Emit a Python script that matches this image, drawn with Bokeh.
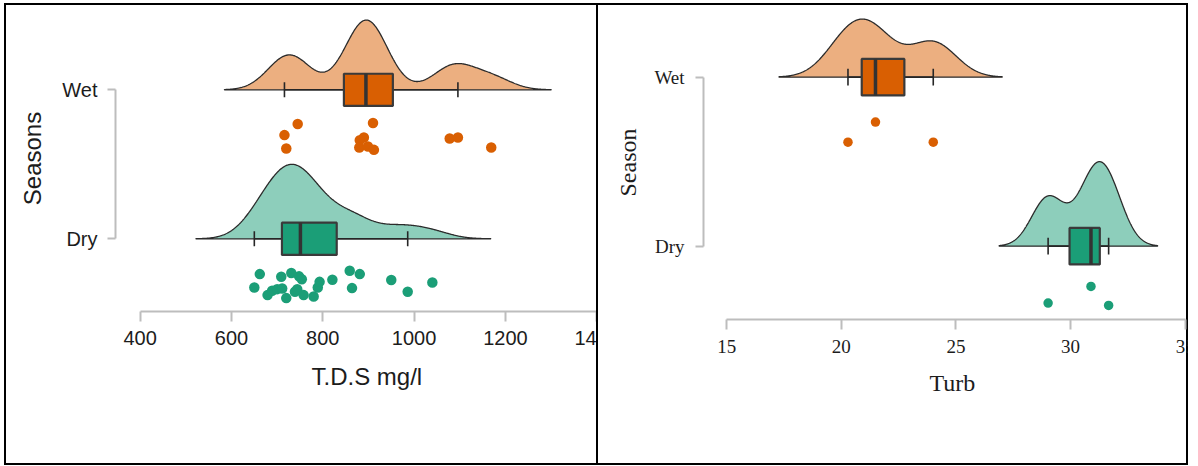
import numpy as np
from bokeh.plotting import figure
from bokeh.layouts import row
from bokeh.models import Range1d, FixedTicker, Title
from bokeh.embed import file_html
from bokeh.resources import INLINE

# ---------------- data ----------------
season_labels = {1: "Dry", 2: "Wet"}
tds_ticks = [400, 600, 800, 1000, 1200, 1400]
turb_ticks = [15, 20, 25, 30, 35]

tds_wet = [745, 716, 720, 910, 890, 881, 880, 899, 912, 1078, 1096, 1169]
tds_wet_jitter = [0.230, 0.304, 0.394, 0.223, 0.320, 0.338, 0.387, 0.381, 0.403, 0.327, 0.320, 0.387]
tds_dry = [650, 662, 679, 689, 700, 709, 711, 720, 731, 739, 744, 748,
           754, 758, 780, 789, 793, 821, 859, 864, 881, 950, 986, 1040]
tds_dry_jitter = [0.327, 0.237, 0.378, 0.349, 0.338, 0.255, 0.334, 0.398, 0.230, 0.356, 0.338, 0.252,
                  0.272, 0.378, 0.387, 0.327, 0.289, 0.275, 0.215, 0.331, 0.237, 0.277, 0.356, 0.293]
turb_wet = [20.29, 21.49, 24.01]
turb_wet_jitter = [0.385, 0.266, 0.385]
turb_dry = [29.02, 30.89, 31.66]
turb_dry_jitter = [0.337, 0.238, 0.351]

ORANGE = "#D95F02"
GREEN = "#1B9E77"
TEXT = "#1c1c1c"

# ---------------- helpers ----------------
def density(x, n=512):
    x = np.asarray(x, float)
    m = len(x)
    sd = x.std(ddof=1)
    q1, q3 = np.percentile(x, [25, 75])
    lo = min(sd, (q3 - q1) / 1.34)
    bw = 0.9 * lo * m ** -0.2
    grid = np.linspace(x.min() - 3 * bw, x.max() + 3 * bw, n)
    d = np.exp(-0.5 * ((grid[:, None] - x[None, :]) / bw) ** 2).sum(1) / (m * bw * np.sqrt(2 * np.pi))
    return grid, d


def box_stats(x):
    a = np.asarray(x, float)
    q1, med, q3 = np.percentile(a, [25, 50, 75])
    iqr = q3 - q1
    lo = a[a >= q1 - 1.5 * iqr].min()
    hi = a[a <= q3 + 1.5 * iqr].max()
    return lo, q1, med, q3, hi


def raincloud(p, groups, dot_size, half_height=0.5, box_half=0.108, cap_half=0.05):
    dens = [density(g[1]) for g in groups]
    dmax = max(d.max() for _, d in dens)
    scale = half_height / dmax
    for (pos, vals, jit, col), (grid, d) in zip(groups, dens):
        xs = list(grid) + [grid[-1], grid[0]]
        ys = list(pos + d * scale) + [pos, pos]
        p.patch(xs, ys, fill_color=col, fill_alpha=0.5, line_color="#2b2b2b", line_width=1.3)
        lo, q1, med, q3, hi = box_stats(vals)
        p.segment(x0=[lo, q3], y0=[pos, pos], x1=[q1, hi], y1=[pos, pos],
                  line_color="#262626", line_width=1.6)
        p.segment(x0=[lo, hi], y0=[pos - cap_half] * 2, x1=[lo, hi], y1=[pos + cap_half] * 2,
                  line_color="#262626", line_width=1.6)
        p.quad(left=[q1], right=[q3], bottom=[pos - box_half], top=[pos + box_half],
               fill_color=col, line_color="#3a3a3a", line_width=2.2)
        p.segment(x0=[med], y0=[pos - box_half], x1=[med], y1=[pos + box_half],
                  line_color="#333333", line_width=3.5)
        p.scatter(x=list(vals), y=list(pos - np.asarray(jit)), size=dot_size,
                  fill_color=col, line_color=None)


def make_panel(width, height, xr, yr, borders, font, tick_px, label_px, xlabel, ylabel,
               xticks, ystand, xstand, ylab_stand, xlab_gap, xlab_offset):
    p = figure(width=width, height=height, x_range=Range1d(*xr), y_range=Range1d(*yr),
               output_backend="svg", toolbar_location=None, tools="",
               min_border_left=borders[0], min_border_right=borders[1],
               min_border_top=borders[2], min_border_bottom=borders[3])
    p.frame_align = False
    p.xgrid.visible = False
    p.ygrid.visible = False
    p.outline_line_color = None
    p.background_fill_color = None
    p.border_fill_color = None
    p.styles = {"background-color": "white"}
    for ax in (p.xaxis[0], p.yaxis[0]):
        ax.axis_line_color = "#bdbdbd"
        ax.axis_line_width = 2
        ax.major_tick_line_color = "#bdbdbd"
        ax.major_tick_line_width = 2
        ax.major_tick_in = 0
        ax.minor_tick_line_color = None
        ax.major_label_text_font = font
        ax.major_label_text_font_size = tick_px
        ax.major_label_text_color = TEXT
        ax.axis_label_text_font = font
        ax.axis_label_text_font_size = label_px
        ax.axis_label_text_font_style = "normal"
        ax.axis_label_text_color = TEXT
    xa = p.xaxis[0]
    xa.ticker = FixedTicker(ticks=xticks)
    xa.bounds = (xticks[0], xticks[-1])
    xa.major_tick_out = 10
    xa.major_label_standoff = xstand
    ya = p.yaxis[0]
    ya.ticker = FixedTicker(ticks=sorted(season_labels))
    ya.major_label_overrides = {k: v for k, v in season_labels.items()}
    ya.bounds = (1, 2)
    ya.major_tick_out = 8
    ya.major_label_standoff = ystand
    ya.axis_label = ylabel
    ya.axis_label_standoff = ylab_stand
    # x-axis title: centred under the axis range, as in the original
    p.add_layout(Title(text=xlabel, align="left", offset=xlab_offset, vertical_align="top",
                       standoff=xlab_gap, text_font=font, text_font_size=label_px,
                       text_font_style="normal", text_color=TEXT), "below")
    return p


# ---------------- left panel: T.D.S ----------------
# its canvas runs 30px under the right panel, so that the last tick label is cut
# by the panel border as in the original
p1 = make_panel(620, 458, (345.9, 1465.3), (0.512, 2.566), (109, 0, 0, 152),
                "Liberation Sans", "20px", "24px", "T.D.S mg/l", "Seasons",
                tds_ticks, 10, 9, 13, 30, 196)
raincloud(p1, [(2, tds_wet, tds_wet_jitter, ORANGE), (1, tds_dry, tds_dry_jitter, GREEN)],
          dot_size=10.5)
p1.margin = (2, 0, 2, 2)

# ---------------- right panel: Turb ----------------
EXTRA = 10  # canvas beyond the right border, clipped away
p2 = make_panel(592 + EXTRA, 458, (13.988, 35.58), (0.566, 2.424), (107, 0, 0, 144),
                "Liberation Serif", "19px", "24px", "Turb", "Season",
                turb_ticks, 11, 10, 10, 28, 226)
raincloud(p2, [(2, turb_wet, turb_wet_jitter, ORANGE), (1, turb_dry, turb_dry_jitter, GREEN)],
          dot_size=9.5)
p2.margin = (2, -EXTRA, 2, -30)
p2.styles = {"background-color": "white", "position": "relative", "z-index": "1",
             "box-shadow": f"inset 2px 0 0 0 black, inset -{EXTRA + 2}px 0 0 0 black",
             "clip-path": f"inset(0px {EXTRA}px 0px 0px)"}

layout = row(p1, p2, width=1184, height=462, sizing_mode="fixed", margin=(3, 0, 0, 4),
             styles={"background-color": "black"})

open("out.html", "w").write(file_html(layout, INLINE))
